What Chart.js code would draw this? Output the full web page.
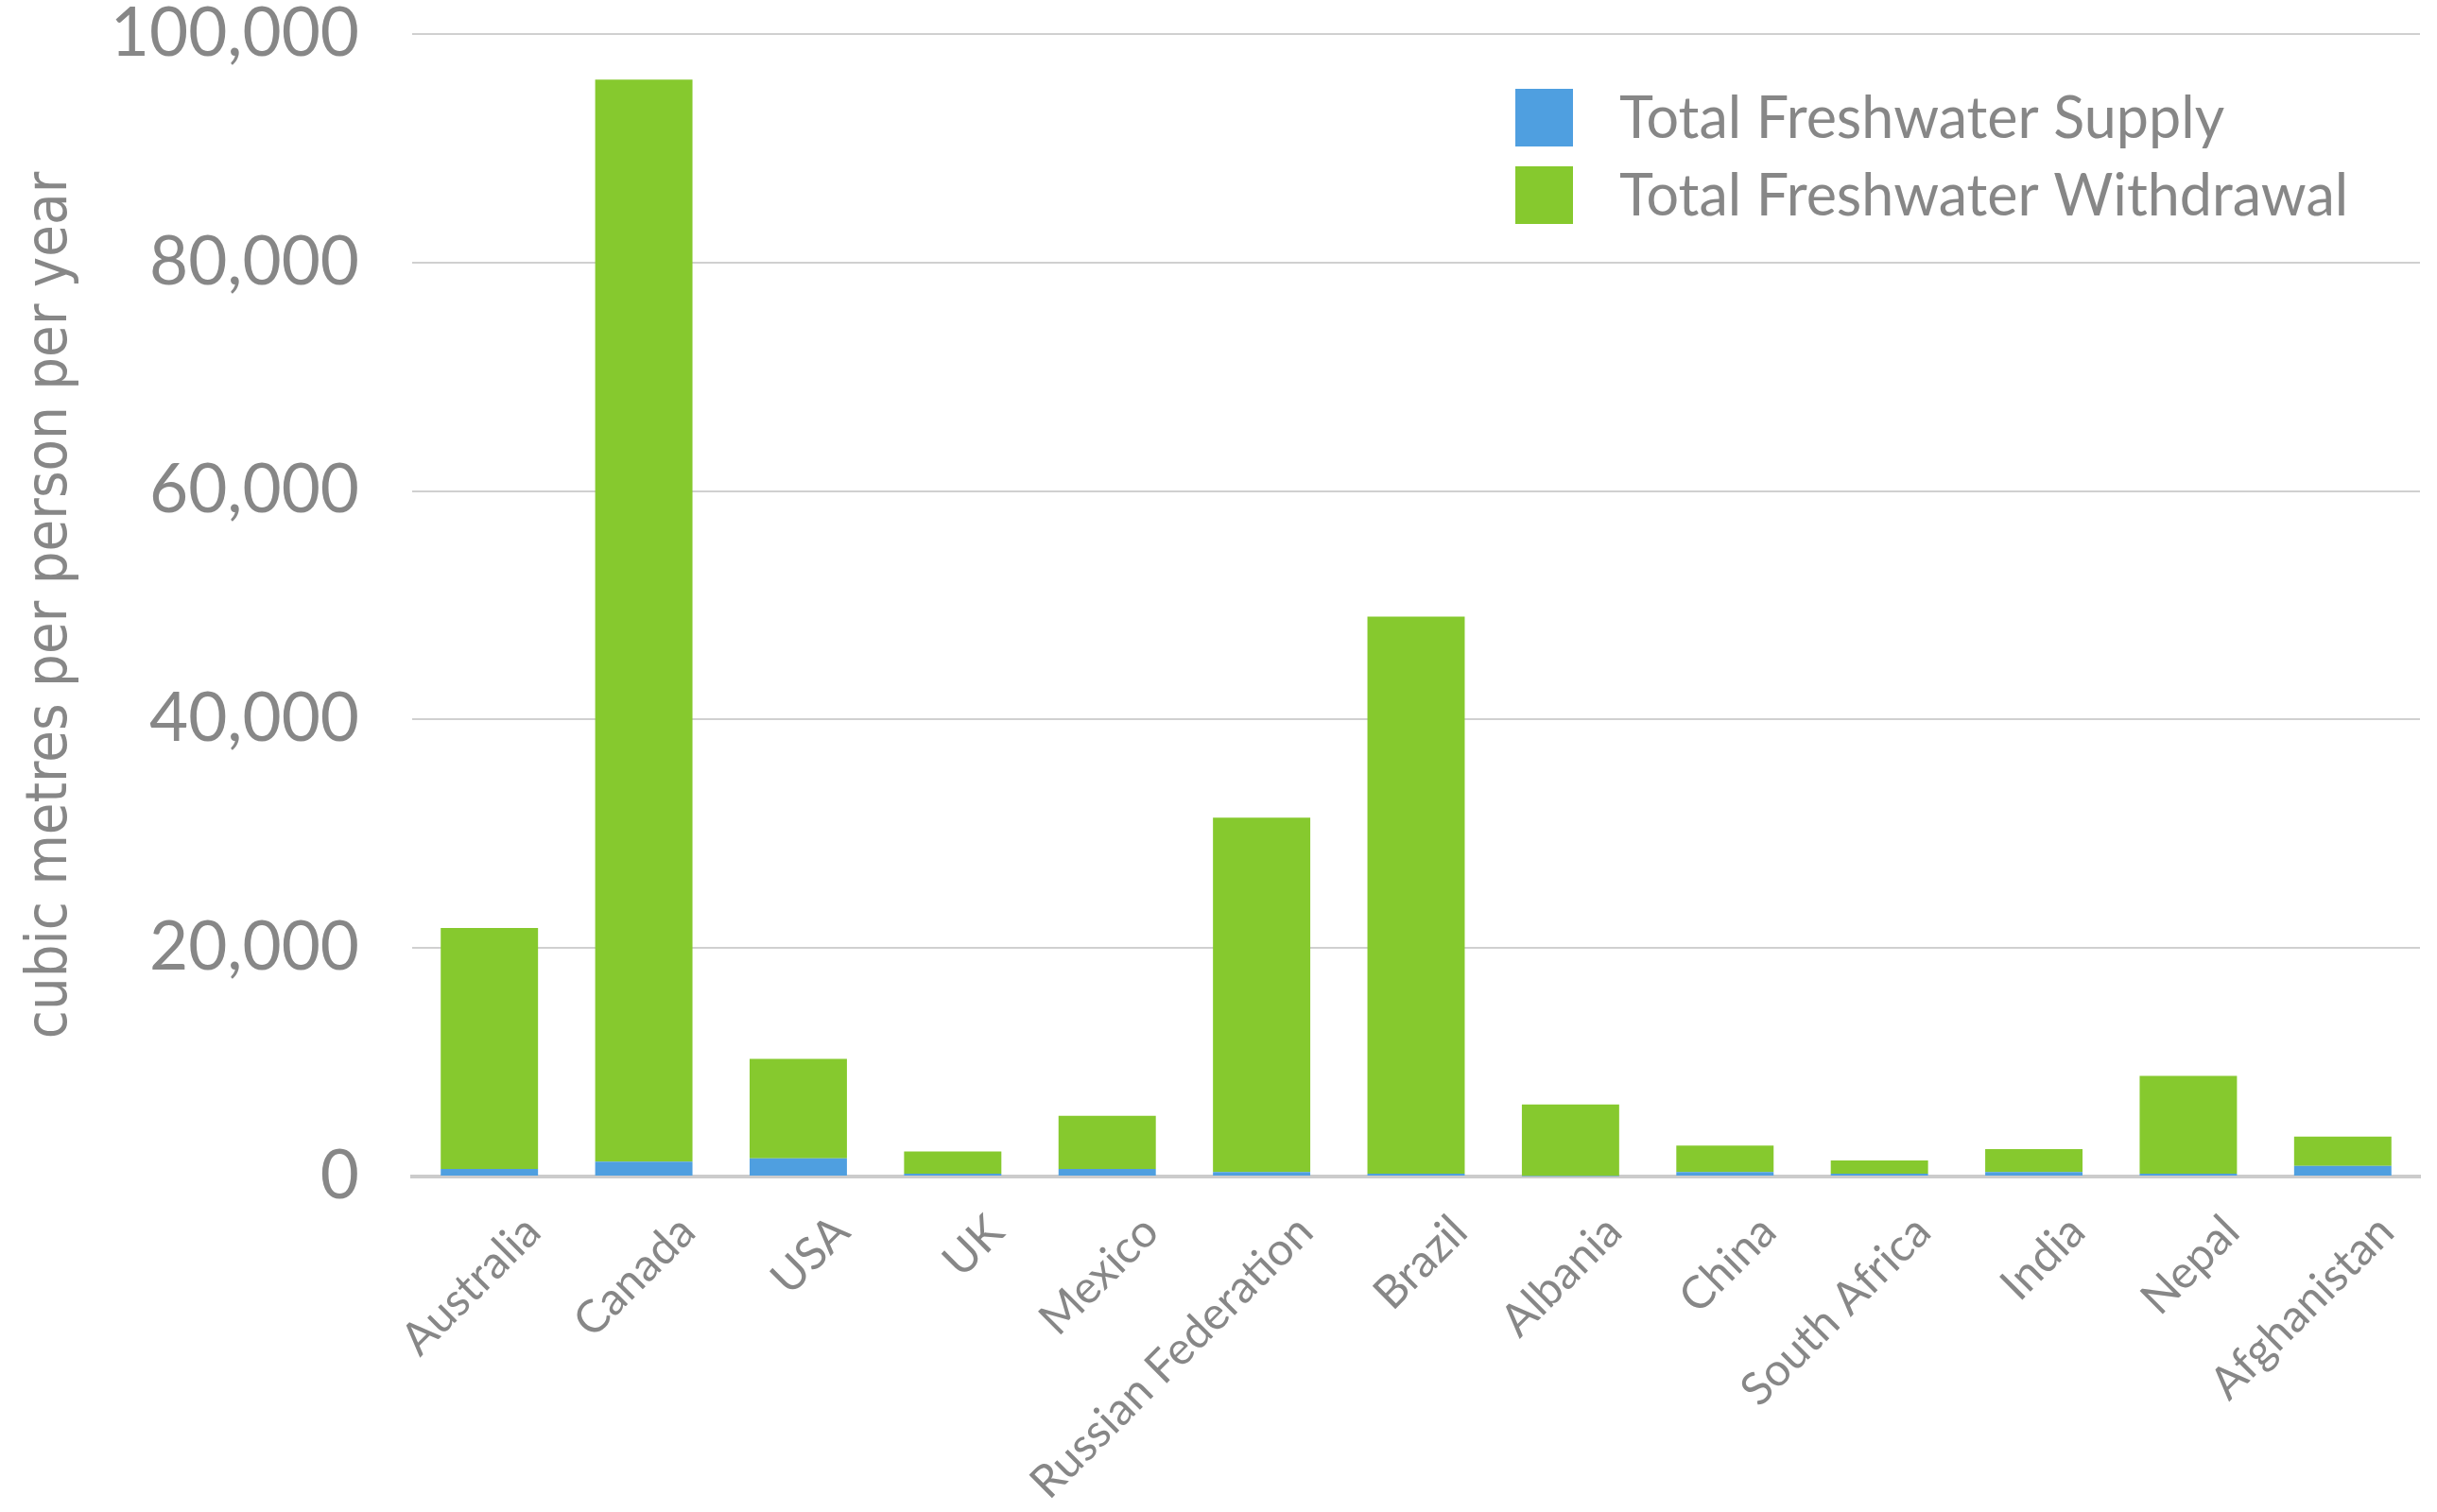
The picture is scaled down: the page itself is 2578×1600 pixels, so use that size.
<!DOCTYPE html>
<html>
<head>
<meta charset="utf-8">
<script src="https://cdn.jsdelivr.net/npm/chart.js@4/dist/chart.umd.min.js"></script>
<style>
html,body{margin:0;padding:0;background:#fff;}
#wrap{width:2578px;height:1600px;position:relative;}
</style>
</head>
<body>
<div id="wrap"><canvas id="c" width="2578" height="1600"></canvas></div>
<script>
const categories = ["Australia","Canada","USA","UK","Mexico","Russian Federation","Brazil","Albania","China","South Africa","India","Nepal","Afghanistan"];
const supplyValues = [660, 1300, 1600, 250, 660, 400, 250, 40, 400, 250, 400, 250, 930];
const withdrawalValues = [21100, 94700, 8700, 1950, 4650, 31000, 48750, 6260, 2300, 1150, 2000, 8550, 2570];
const seriesNames = ["Total Freshwater Supply", "Total Freshwater Withdrawal"];
const yTicks = [0, 20000, 40000, 60000, 80000, 100000];
const yTitle = "cubic metres per person per year";

const GRAY = '#878787';
const FONT = 'Lato, "Open Sans", sans-serif';

const legendPlugin = {
  id: 'insideLegend',
  afterDraw(chart) {
    const ctx = chart.ctx;
    const x0 = 1603, y0 = 94, box = 61, gap = 82;
    ctx.save();
    chart.data.datasets.forEach((ds, i) => {
      const y = y0 + i * gap;
      ctx.fillStyle = ds.backgroundColor;
      ctx.fillRect(x0, y, box, box);
      ctx.fillStyle = GRAY;
      ctx.font = '61px ' + FONT;
      ctx.textBaseline = 'middle';
      ctx.textAlign = 'left';
      ctx.fillText(ds.label, x0 + 110, y + box / 2 + 2);
    });
    ctx.restore();
  }
};

new Chart(document.getElementById('c'), {
  type: 'bar',
  data: {
    labels: categories,
    datasets: [
      { label: seriesNames[0], data: supplyValues, backgroundColor: '#4f9fe0', borderWidth: 0 },
      { label: seriesNames[1], data: withdrawalValues, backgroundColor: '#86c92e', borderWidth: 0 }
    ]
  },
  options: {
    responsive: false,
    animation: false,
    devicePixelRatio: 1,
    layout: { padding: { left: 0, right: 18, top: 36, bottom: 0 } },
    datasets: { bar: { categoryPercentage: 1.0, barPercentage: 0.63 } },
    plugins: { legend: { display: false }, tooltip: { enabled: false } },
    scales: {
      x: {
        stacked: true,
        grid: { display: false, drawTicks: false },
        border: { display: true, color: '#cccccc', width: 4 },
        ticks: {
          color: GRAY,
          font: { family: FONT, size: 48 },
          maxRotation: 45, minRotation: 45,
          padding: 30,
          labelOffset: 46,
          autoSkip: false
        },
        afterFit(s) { s.height = 355; s.paddingTop = 0; s.paddingBottom = 0; }
      },
      y: {
        stacked: true,
        min: 0, max: 100000,
        afterBuildTicks(s) { s.ticks = yTicks.map(v => ({ value: v })); },
        grid: { color: '#d0d0d0', lineWidth: 2, drawTicks: false },
        border: { display: false },
        ticks: {
          color: GRAY,
          font: { family: FONT, size: 71 },
          padding: 56,
          callback: v => v.toLocaleString('en-US')
        },
        title: {
          display: true,
          text: yTitle,
          color: GRAY,
          font: { family: '"Liberation Sans Narrow", "DejaVu Sans Condensed", sans-serif', size: 61 },
          padding: { top: 18, bottom: 0 }
        },
        afterFit(s) { s.width = 436; s.paddingTop = 0; s.paddingBottom = 0; }
      }
    }
  },
  plugins: [legendPlugin]
});
</script>
</body>
</html>
